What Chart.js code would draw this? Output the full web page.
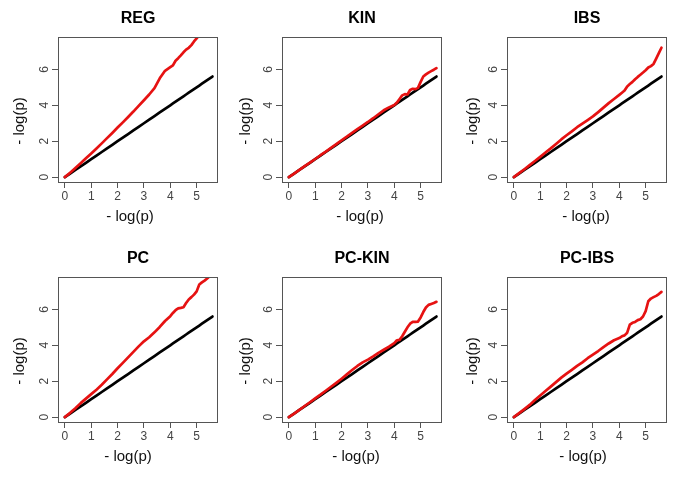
<!DOCTYPE html>
<html><head><meta charset="utf-8">
<script src="https://cdn.jsdelivr.net/npm/chart.js@4.4.1/dist/chart.umd.min.js"></script>
<style>
html,body{margin:0;padding:0;background:#fff;}
#wrap{position:relative;width:685px;height:482px;overflow:hidden;background:#fff;}
#wrap canvas{position:absolute;}
</style></head><body><div id="wrap"></div>
<script>
// ---- data ----
const panelTitles = ["REG", "KIN", "IBS", "PC", "PC-KIN", "PC-IBS"];
const axisLabel = "- log(p)";
const xTicks = [0, 1, 2, 3, 4, 5];
const yTicks = [0, 2, 4, 6];

// expected -log(p) quantiles (x of every point; the black null line lies on y = x)
const expected = [0, 0.2, 0.4, 0.6, 0.8, 1, 1.2, 1.4, 1.6, 1.8, 2, 2.2, 2.4, 2.6, 2.8, 3, 3.2, 3.4, 3.6, 3.8, 4,
  4.1, 4.2, 4.3, 4.4, 4.5, 4.6, 4.7, 4.8, 4.9, 5, 5.1, 5.2, 5.3, 5.4, 5.5, 5.6];

// observed -log(p) (red)
const obsREG = [0, 0.25, 0.51, 0.78, 1.05, 1.32, 1.6, 1.88, 2.17, 2.46, 2.76, 3.05, 3.35, 3.65, 3.97, 4.28, 4.6, 4.95, 5.5, 5.92, 6.12,
  6.22, 6.48, 6.62, 6.78, 6.95, 7.1, 7.2, 7.35, 7.55, 7.72, 7.92, 8.1, 8.3, 8.5, 8.7, 8.9];
const obsKIN = [0, 0.2, 0.4, 0.61, 0.81, 1.01, 1.22, 1.42, 1.63, 1.84, 2.05, 2.25, 2.46, 2.67, 2.87, 3.07, 3.28, 3.5, 3.72, 3.88, 4.02,
  4.15, 4.35, 4.55, 4.62, 4.6, 4.85, 4.92, 4.9, 4.97, 5.3, 5.6, 5.72, 5.82, 5.9, 5.98, 6.07];
const obsIBS = [0, 0.22, 0.44, 0.67, 0.9, 1.13, 1.37, 1.6, 1.85, 2.1, 2.33, 2.55, 2.78, 2.98, 3.18, 3.38, 3.62, 3.87, 4.12, 4.35, 4.58,
  4.7, 4.82, 5.05, 5.18, 5.3, 5.45, 5.58, 5.7, 5.82, 5.95, 6.1, 6.18, 6.3, 6.6, 6.9, 7.2];
const obsPC = [0, 0.24, 0.5, 0.78, 1.03, 1.28, 1.53, 1.8, 2.1, 2.4, 2.72, 3.02, 3.33, 3.63, 3.94, 4.22, 4.45, 4.72, 5.02, 5.35, 5.62,
  5.8, 5.95, 6.05, 6.08, 6.12, 6.35, 6.55, 6.68, 6.82, 7.0, 7.38, 7.5, 7.6, 7.72, 7.85, 7.98];
const obsPCKIN = [0, 0.2, 0.41, 0.62, 0.83, 1.04, 1.25, 1.47, 1.69, 1.91, 2.14, 2.38, 2.62, 2.85, 3.05, 3.2, 3.38, 3.58, 3.75, 3.92, 4.12,
  4.28, 4.3, 4.5, 4.75, 5.0, 5.2, 5.3, 5.3, 5.32, 5.55, 5.85, 6.1, 6.25, 6.3, 6.35, 6.42];
const obsPCIBS = [0, 0.22, 0.45, 0.68, 0.95, 1.2, 1.45, 1.7, 1.95, 2.2, 2.42, 2.63, 2.85, 3.05, 3.28, 3.48, 3.68, 3.9, 4.1, 4.28, 4.4,
  4.5, 4.55, 4.7, 5.15, 5.25, 5.3, 5.4, 5.45, 5.6, 5.9, 6.45, 6.6, 6.68, 6.75, 6.85, 6.97];
const observed = [obsREG, obsKIN, obsIBS, obsPC, obsPCKIN, obsPCIBS];

// ---- layout / style ----
const FONT = "'Liberation Sans', Arial, Helvetica, sans-serif";
const RED = "rgb(230,18,18)";
const BLACK = "#000";
const CANVAS_W = 225, CANVAS_H = 240;
const canvasLefts = [0, 224, 449];
const canvasTops = [0, 240];
const xTitleShift = [[-8, -2, -1], [-10, -6, -4]];
const yTitleOffset = [-34, -32.5, -30];

const frameAndTitles = {
  id: 'frameAndTitles',
  afterDraw(chart, args, opts) {
    const {ctx, chartArea: a} = chart;
    ctx.save();
    ctx.strokeStyle = '#555';
    ctx.lineWidth = 1;
    ctx.strokeRect(a.left + 0.5, a.top + 0.5, a.right - a.left - 1, a.bottom - a.top);
    ctx.fillStyle = '#111';
    ctx.font = '15px ' + FONT;
    ctx.textAlign = 'center';
    ctx.textBaseline = 'alphabetic';
    ctx.fillText(axisLabel, (a.left + a.right) / 2 + opts.xShift, a.bottom + 39);
    ctx.translate(a.left + opts.yOffset, (a.top + a.bottom) / 2 + 11.5);
    ctx.rotate(-Math.PI / 2);
    ctx.fillText(axisLabel, 0, 0);
    ctx.restore();
  }
};

const wrap = document.getElementById('wrap');
panelTitles.forEach((title, p) => {
  const row = Math.floor(p / 3), col = p % 3;
  const cv = document.createElement('canvas');
  cv.width = CANVAS_W; cv.height = CANVAS_H;
  cv.style.left = canvasLefts[col] + 'px';
  cv.style.top = canvasTops[row] + 'px';
  cv.style.width = CANVAS_W + 'px'; cv.style.height = CANVAS_H + 'px';
  wrap.appendChild(cv);
  const obs = observed[p];
  new Chart(cv, {
    type: 'line',
    data: {
      datasets: [
        {
          label: 'observed',
          data: expected.map((x, i) => ({x: x, y: obs[i]})),
          borderColor: RED, borderWidth: 2.7, pointRadius: 0, tension: 0,
          borderJoinStyle: 'round', borderCapStyle: 'round', fill: false
        },
        {
          label: 'expected',
          data: expected.map((x, i) => ({x: x, y: expected[i]})),
          borderColor: BLACK, borderWidth: 2.7, pointRadius: 0, tension: 0,
          borderJoinStyle: 'round', borderCapStyle: 'round', fill: false
        }
      ]
    },
    options: {
      responsive: false, animation: false, devicePixelRatio: 1,
      layout: {padding: {left: 0, right: 7, top: 0, bottom: 0}},
      plugins: {
        legend: {display: false},
        tooltip: {enabled: false},
        title: {
          display: true, text: title, fullSize: false,
          font: {family: FONT, size: 16, weight: 'bold', lineHeight: 1.2},
          color: '#000', padding: {top: 9, bottom: 8.8}
        },
        frameAndTitles: {xShift: xTitleShift[row][col], yOffset: yTitleOffset[col]}
      },
      scales: {
        x: {
          type: 'linear', position: 'bottom', min: -0.26, max: 5.81,
          afterBuildTicks: s => { s.ticks = xTicks.map(v => ({value: v})); },
          afterFit: s => { s.height = 58; },
          grid: {display: true, drawOnChartArea: false, drawTicks: true, tickLength: 6, color: '#555'},
          border: {display: false},
          ticks: {font: {family: FONT, size: 12}, color: '#444', padding: 1, maxRotation: 0, minRotation: 0, autoSkip: false}
        },
        y: {
          type: 'linear', position: 'left', min: -0.27, max: 7.8,
          afterBuildTicks: s => { s.ticks = yTicks.map(v => ({value: v})); },
          afterFit: s => { s.width = 58; },
          grid: {display: true, drawOnChartArea: false, drawTicks: true, tickLength: 6, color: '#555'},
          border: {display: false},
          ticks: {font: {family: FONT, size: 12}, color: '#444', padding: 4, minRotation: 90, maxRotation: 90, crossAlign: 'center', autoSkip: false}
        }
      }
    },
    plugins: [frameAndTitles]
  });
});
</script>
</body></html>
